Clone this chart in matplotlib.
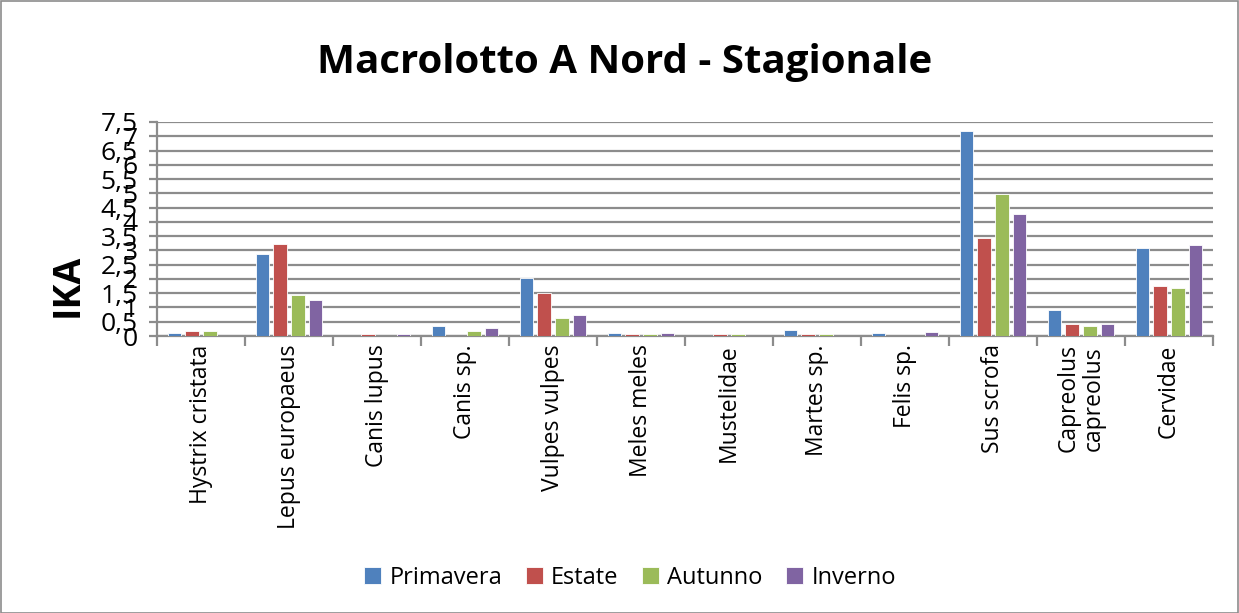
import matplotlib
matplotlib.use("Agg")
import matplotlib.pyplot as plt
import numpy as np
from matplotlib.patches import Rectangle

categories = ["Hystrix cristata", "Lepus europaeus", "Canis lupus", "Canis sp.",
              "Vulpes vulpes", "Meles meles", "Mustelidae", "Martes sp.",
              "Felis sp.", "Sus scrofa", "Capreolus\ncapreolus", "Cervidae"]
primavera = [0.09, 2.88, 0.0, 0.34, 2.02, 0.12, 0.0, 0.22, 0.12, 7.18, 0.92, 3.07]
estate    = [0.16, 3.24, 0.06, 0.0, 1.50, 0.06, 0.06, 0.06, 0.0, 3.42, 0.41, 1.74]
autunno   = [0.16, 1.45, 0.0, 0.16, 0.62, 0.06, 0.06, 0.06, 0.0, 4.99, 0.34, 1.67]
inverno   = [0.0, 1.26, 0.06, 0.29, 0.75, 0.11, 0.0, 0.0, 0.15, 4.29, 0.41, 3.19]
series_names = ["Primavera", "Estate", "Autunno", "Inverno"]
colors = ["#4F81BD", "#C0504D", "#9BBB59", "#8064A2"]
yticks = [0, 0.5, 1, 1.5, 2, 2.5, 3, 3.5, 4, 4.5, 5, 5.5, 6, 6.5, 7, 7.5]
ytick_labels = ["0", "0,5", "1", "1,5", "2", "2,5", "3", "3,5", "4", "4,5",
                "5", "5,5", "6", "6,5", "7", "7,5"]
title = "Macrolotto A Nord - Stagionale"
ylabel = "IKA"

W, H = 1239, 613
fig = plt.figure(figsize=(W / 100, H / 100), dpi=100)
plt.rcParams['font.family'] = ['Open Sans', 'DejaVu Sans']

ax = fig.add_axes([157 / W, 1 - 336 / H, (1213 - 157) / W, (336 - 122) / H])

x = np.arange(len(categories))
pitch = 0.2
bw = 0.155
data = [primavera, estate, autunno, inverno]
for i, (vals, name, c) in enumerate(zip(data, series_names, colors)):
    ax.bar(x + (i - 1.5) * pitch, vals, width=bw, color=c, label=name,
           edgecolor="white", linewidth=0.6, zorder=3)

ax.set_xlim(-0.5, len(categories) - 0.5)
ax.set_ylim(0, 7.5)
ax.set_yticks(yticks)
ax.set_yticklabels(ytick_labels, fontsize=19)
ax.yaxis.grid(True, color="#8c8c8c", linewidth=1.6, zorder=0)
ax.set_axisbelow(True)

ax.set_xticks(np.arange(len(categories) + 1) - 0.5)
ax.set_xticklabels([])
ax.set_xticks(x, minor=True)
ax.set_xticklabels(categories, minor=True, rotation=90, fontsize=16.5,
                   va="top", ha="center", linespacing=1.05)
ax.tick_params(axis="x", which="minor", length=0, pad=6)
ax.tick_params(axis="x", which="major", length=7, width=1.6, color="#8c8c8c")
ax.tick_params(axis="y", length=6, width=1.6, color="#8c8c8c", pad=8)

for s in ["top", "right"]:
    ax.spines[s].set_visible(False)
for s in ["left", "bottom"]:
    ax.spines[s].set_color("#8c8c8c")
    ax.spines[s].set_linewidth(1.6)

fig.text(625 / W, 1 - 62 / H, title, fontsize=29, fontweight="bold",
         ha="center", va="center")
fig.text(68 / W, 1 - 285 / H, ylabel, fontsize=27, fontweight="bold",
         rotation=90, ha="center", va="center")

handles, labels = ax.get_legend_handles_labels()
leg = fig.legend(handles, labels, loc="center", bbox_to_anchor=(630 / W, 1 - 578 / H),
                 ncol=4, frameon=False, fontsize=17, handlelength=0.72,
                 handleheight=0.72, handletextpad=0.35, columnspacing=1.0)

fig.add_artist(Rectangle((0.5 / W, 0.5 / H), 1 - 1.5 / W, 1 - 1.5 / H,
                         transform=fig.transFigure, fill=False,
                         edgecolor="#8c8c8c", linewidth=1.2))

fig.savefig("out.png", dpi=100)
